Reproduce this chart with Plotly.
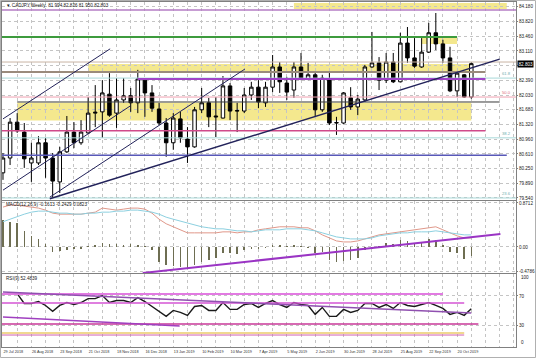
import pandas as pd
import plotly.graph_objects as go
from plotly.subplots import make_subplots

# ---------------- data ----------------
dates = pd.date_range("2018-07-29", periods=67, freq="7D")

opens = [80.15, 80.51, 81.38, 81.14, 80.39, 80.39, 80.88, 80.51, 79.93, 80.66,
         81.14, 80.88, 81.12, 81.60, 81.63, 82.06, 81.60, 81.92, 82.02, 81.85,
         82.40, 82.09, 81.70, 81.36, 80.88, 81.46, 80.97, 80.78, 81.68, 81.85,
         81.53, 81.48, 82.26, 81.65, 81.65, 82.04, 82.23, 81.85, 82.23, 82.72,
         82.33, 82.16, 82.72, 82.43, 82.53, 81.68, 82.43, 81.36, 81.36, 81.97,
         81.75, 81.92, 82.72, 82.82, 82.40, 82.84, 82.36, 83.30, 82.94, 82.72,
         83.08, 83.55, 83.28, 82.94, 82.14, 82.53, 81.99]
highs = [80.63, 81.48, 81.60, 81.36, 80.88, 81.04, 81.00, 80.63, 80.78, 81.53,
         81.38, 81.43, 81.99, 82.28, 82.40, 82.57, 82.45, 82.45, 82.21, 82.65,
         82.43, 82.28, 81.85, 81.48, 81.60, 81.63, 81.26, 81.75, 82.21, 81.97,
         81.99, 82.50, 82.33, 81.85, 82.21, 82.36, 82.40, 82.36, 83.01, 82.84,
         82.48, 82.84, 83.06, 82.82, 82.60, 82.53, 82.60, 81.51, 82.11, 82.23,
         82.04, 82.77, 83.57, 82.96, 83.06, 83.06, 83.55, 83.69, 83.42, 83.42,
         83.79, 84.03, 83.38, 83.21, 82.60, 82.55, 82.83]
lows = [79.98, 80.34, 81.12, 80.27, 79.93, 80.34, 80.03, 79.56, 79.66, 80.63,
        80.75, 80.83, 81.10, 81.26, 81.00, 81.51, 81.24, 81.85, 81.63, 81.60,
        81.51, 81.63, 81.31, 80.54, 80.71, 80.88, 80.39, 80.76, 81.60, 81.26,
        81.02, 81.47, 81.43, 81.14, 81.60, 81.92, 81.72, 81.75, 82.11, 82.09,
        81.92, 81.97, 82.40, 82.40, 81.51, 81.63, 81.31, 81.07, 81.34, 81.68,
        81.55, 81.87, 82.70, 82.16, 82.33, 82.33, 82.35, 82.82, 82.70, 82.70,
        83.06, 83.13, 82.82, 82.11, 81.99, 81.97, 81.95]
closes = [80.51, 81.38, 81.17, 80.49, 80.51, 80.88, 80.51, 79.95, 80.66, 81.14,
          80.88, 81.14, 81.60, 81.62, 82.09, 81.55, 81.92, 82.02, 81.85, 82.43,
          82.09, 81.72, 81.36, 80.88, 81.48, 81.00, 80.78, 81.68, 81.85, 81.51,
          81.51, 82.26, 81.65, 81.66, 82.04, 82.23, 81.87, 82.23, 82.72, 82.36,
          82.11, 82.72, 82.43, 82.53, 81.68, 82.45, 81.36, 81.37, 82.09, 81.75,
          81.94, 82.72, 82.82, 82.40, 82.84, 82.36, 83.30, 82.94, 82.74, 83.08,
          83.55, 83.28, 82.94, 82.14, 82.57, 81.99, 82.80]

macd_hist = [0.53, 0.50, 0.47, 0.32, 0.22, 0.16, 0.06, -0.10, -0.08, -0.06,
             -0.04, -0.03, 0.02, 0.03, 0.08, 0.06, 0.05, 0.04, 0.05, 0.03,
             0.02, -0.05, -0.30, -0.36, -0.38, -0.40, -0.42, -0.36, -0.30, -0.26,
             -0.22, -0.12, -0.12, -0.14, -0.06, -0.04, -0.03, -0.02, 0.04, 0.04,
             0.02, 0.03, 0.02, -0.02, -0.12, -0.10, -0.26, -0.30, -0.28, -0.26,
             -0.22, -0.06, -0.03, 0.02, 0.08, 0.06, 0.14, 0.12, 0.08, 0.10,
             0.16, 0.14, 0.04, -0.10, -0.12, -0.24, -0.18]
macd_main = [0.79, 0.83, 0.83, 0.81, 0.79, 0.77, 0.73, 0.67, 0.65, 0.65,
             0.65, 0.65, 0.67, 0.69, 0.77, 0.75, 0.73, 0.75, 0.77, 0.77,
             0.75, 0.67, 0.55, 0.46, 0.40, 0.34, 0.28, 0.28, 0.28, 0.28,
             0.28, 0.30, 0.30, 0.28, 0.30, 0.30, 0.34, 0.36, 0.38, 0.40,
             0.40, 0.40, 0.38, 0.38, 0.32, 0.24, 0.18, 0.12, 0.10, 0.10,
             0.12, 0.16, 0.20, 0.24, 0.26, 0.28, 0.30, 0.32, 0.34, 0.36,
             0.38, 0.40, 0.34, 0.28, 0.22, 0.18, 0.18]
macd_signal = [0.50, 0.55, 0.61, 0.65, 0.69, 0.71, 0.71, 0.69, 0.67, 0.67,
               0.65, 0.65, 0.67, 0.67, 0.69, 0.69, 0.71, 0.71, 0.73, 0.73,
               0.71, 0.69, 0.65, 0.59, 0.55, 0.51, 0.48, 0.44, 0.40, 0.38,
               0.36, 0.36, 0.34, 0.32, 0.32, 0.30, 0.32, 0.34, 0.34, 0.34,
               0.36, 0.36, 0.36, 0.34, 0.32, 0.28, 0.24, 0.20, 0.18, 0.16,
               0.16, 0.16, 0.18, 0.22, 0.24, 0.26, 0.28, 0.28, 0.30, 0.30,
               0.30, 0.32, 0.30, 0.28, 0.26, 0.24, 0.24]
rsi = [71.7, 74.4, 73.0, 59.6, 59.6, 62.3, 56.9, 48.8, 56.9, 60.9,
       58.2, 60.9, 66.3, 66.3, 70.4, 60.9, 63.6, 63.6, 60.9, 67.7,
       62.3, 55.5, 48.8, 42.0, 50.1, 47.4, 43.4, 55.5, 56.9, 50.1,
       50.1, 60.9, 51.5, 51.5, 58.2, 59.6, 54.2, 59.6, 63.6, 58.2,
       54.2, 60.9, 58.2, 56.9, 44.7, 54.2, 42.0, 42.0, 51.5, 47.4,
       50.1, 59.6, 59.6, 54.2, 58.2, 52.8, 60.9, 56.9, 55.5, 58.2,
       60.9, 56.9, 52.8, 44.7, 47.4, 43.4, 52.5]

tick_weeks = [0, 4, 8, 12, 16, 20, 24, 28, 32, 36, 40, 44, 48, 52, 56, 60, 64]
tick_labels = ["29 Jul 2018", "26 Aug 2018", "23 Sep 2018", "21 Oct 2018", "18 Nov 2018",
               "16 Dec 2018", "13 Jan 2019", "10 Feb 2019", "10 Mar 2019", "7 Apr 2019",
               "5 May 2019", "2 Jun 2019", "30 Jun 2019", "28 Jul 2019", "25 Aug 2019",
               "22 Sep 2019", "20 Oct 2019"]
price_ticks = [79.54, 79.89, 80.25, 80.61, 80.96, 81.32, 81.68, 82.03, 82.39,
               82.75, 83.11, 83.46, 83.82, 84.18]
hidden_price_tick = 82.75   # covered by the last-price marker in the reference
macd_ticks = [-0.4786, 0.0, 0.8712]
rsi_ticks = [30, 70]
rsi_edge_ticks = [0, 100]

title_main = "\u25bc CADJPY,Weekly  81.994 82.826 81.950 82.803"
title_macd = "MACD(12,26,9) -0.1613 -0.2429 0.0823"
title_rsi = "RSI(9) 52.4839"
last_price = 82.803

# drawn objects (price levels, zones, trendlines)
main_levels = [84.10, 83.45, 82.84, 82.60, 82.45, 82.43, 81.99, 81.87, 81.17, 81.00, 80.58, 79.54]
main_level_spans = [(-1, 75), (-1, 64), (-1, 75), (-1, 68), (-1, 75), (19, 68),
                    (-1, 75), (2, 70), (-1, 68), (-1, 75), (-1, 71), (-1, 75)]
main_zones = [(84.27, 84.13), (83.45, 83.28), (82.79, 82.60), (81.85, 81.42)]
main_zone_spans = [(41, 71), (59, 64), (12, 66), (2, 66)]
main_trends = [((0, 81.46), (15.1, 83.16)), ((0, 79.73), (17.9, 81.77)),
               ((6.6, 79.56), (34.1, 82.67)), ((6.6, 79.52), (70.0, 82.91))]
fibo_levels = [82.45, 81.99, 81.00, 79.54]
fibo_labels = ["61.8", "50.0", "38.2", "23.6"]
macd_trend = ((19.7, -0.515), (70.1, 0.257))
rsi_levels = [72.6, 60.3, 31.5, 19.2, 16.4]
rsi_level_spans = [(-1, 62), (-1, 65), (-1, 67), (-1, 65), (-1, 65)]
rsi_trends = [((0, 75.3), (66, 46.6)), ((0, 41.1), (24.9, 28.8))]

# ---------------- figure ----------------
idx = list(range(len(dates)))
W, H = 536, 358
fig = make_subplots(rows=3, cols=1, shared_xaxes=True, vertical_spacing=0.0)

fig.add_trace(go.Candlestick(
    x=idx, open=opens, high=highs, low=lows, close=closes,
    increasing=dict(line=dict(color="#000000", width=1), fillcolor="#ffffff"),
    decreasing=dict(line=dict(color="#000000", width=1), fillcolor="#000000"),
    whiskerwidth=0, showlegend=False, hoverinfo="skip"), row=1, col=1)

fig.add_trace(go.Bar(x=idx, y=macd_hist, width=0.22, marker=dict(color="#6e6e52", line=dict(width=0)),
                     showlegend=False, hoverinfo="skip"), row=2, col=1)
fig.add_trace(go.Scatter(x=idx, y=macd_main, mode="lines", line=dict(color="#e0988a", width=1),
                         showlegend=False, hoverinfo="skip"), row=2, col=1)
fig.add_trace(go.Scatter(x=idx, y=macd_signal, mode="lines", line=dict(color="#8cd0e0", width=1),
                         showlegend=False, hoverinfo="skip"), row=2, col=1)
fig.add_trace(go.Scatter(x=idx, y=rsi, mode="lines", line=dict(color="#1a1a1a", width=1.4),
                         showlegend=False, hoverinfo="skip"), row=3, col=1)

shapes = []
zone_fill = "rgba(242,228,122,0.85)"
for (p0, p1), (i0, i1) in zip(main_zones, main_zone_spans):
    shapes.append(dict(type="rect", xref="x", yref="y", x0=i0, x1=i1, y0=p0, y1=p1,
                       fillcolor=zone_fill, line=dict(width=0), layer="below"))
level_styles = [("#b47cc4", 1.5), ("#3d9b3d", 2), ("#c9b4a4", 1), ("#9a8b7c", 2),
                ("#a8d8d8", 1), ("#a044c8", 2), ("#f0a0b0", 1), ("#3a3a3a", 1),
                ("#d04a8a", 1.5), ("#a8d8d8", 1), ("#5858b8", 1.5), ("#a8d8d8", 1)]
for p, (i0, i1), (c, w) in zip(main_levels, main_level_spans, level_styles):
    shapes.append(dict(type="line", xref="x", yref="y", x0=i0, x1=i1, y0=p, y1=p,
                       line=dict(color=c, width=w), layer="above"))
trend_w = [1, 1, 1, 1.5]
for ((a0, b0), (a1, b1)), w in zip(main_trends, trend_w):
    shapes.append(dict(type="line", xref="x", yref="y", x0=a0, x1=a1, y0=b0, y1=b1,
                       line=dict(color="#22225a", width=w), layer="above"))
(a0, b0), (a1, b1) = macd_trend
shapes.append(dict(type="line", xref="x2", yref="y2", x0=a0, x1=a1, y0=b0, y1=b1,
                   line=dict(color="#9a34c4", width=2), layer="above"))
rsi_styles = [("#e27ae2", 2), ("#d454d4", 1.5), ("#c83898", 1.5), ("#f0d890", 2), ("#d060b0", 1)]
for p, (i0, i1), (c, w) in zip(rsi_levels, rsi_level_spans, rsi_styles):
    shapes.append(dict(type="line", xref="x3", yref="y3", x0=i0, x1=i1, y0=p, y1=p,
                       line=dict(color=c, width=w), layer="above"))
for ((a0, b0), (a1, b1)), c in zip(rsi_trends, ["#9050b0", "#a040c0"]):
    shapes.append(dict(type="line", xref="x3", yref="y3", x0=a0, x1=a1, y0=b0, y1=b1,
                       line=dict(color=c, width=1.5), layer="above"))
# outer frame
shapes.append(dict(type="rect", xref="paper", yref="paper", x0=-1.5/514, x1=1+19.5/514,
                   y0=-10.5/345, y1=1+1.5/345, line=dict(color="#b0b0b0", width=1)))

fig.update_layout(shapes=shapes)

FAM = "Liberation Sans, Arial, sans-serif"
tf = dict(family=FAM, size=4.6, color="#202020")
ann = []
ann.append(dict(text=title_main, xref="x domain", yref="y domain", x=0.003, y=0.98,
                xanchor="left", yanchor="middle", showarrow=False, font=tf))
ann.append(dict(text=title_macd, xref="x2 domain", yref="y2 domain", x=0.003, y=0.945,
                xanchor="left", yanchor="middle", showarrow=False, font=tf))
ann.append(dict(text=title_rsi, xref="x3 domain", yref="y3 domain", x=0.003, y=0.945,
                xanchor="left", yanchor="middle", showarrow=False, font=tf))
for p, t in zip(fibo_levels, fibo_labels):
    ann.append(dict(text=t, xref="x", yref="y", x=71.9, y=p, xanchor="right", yanchor="bottom",
                    showarrow=False, font=dict(family=FAM, size=4.2,
                                               color="#e07080" if t == "50.0" else "#70b0b0")))
ann.append(dict(text="%.3f" % last_price, xref="paper", yref="y", x=1.0, y=last_price,
                xanchor="left", yanchor="middle", showarrow=False, bgcolor="#000000",
                borderpad=0.5, xshift=0.5, font=dict(family=FAM, size=4.6, color="#ffffff")))
for v, sh in zip(rsi_edge_ticks, [4, -4]):
    ann.append(dict(text=str(v), xref="paper", yref="y3", x=1.0, y=v, xanchor="left",
                    yanchor="middle", yshift=sh, xshift=3, showarrow=False, font=tf))
fig.update_layout(annotations=ann)

grid = dict(showgrid=True, gridcolor="#c4c4c4", griddash="dot", gridwidth=1)
for r in (1, 2, 3):
    fig.update_xaxes(row=r, col=1, range=[-0.14, 72.3], tickmode="array", tickvals=tick_weeks,
                     ticktext=tick_labels, showticklabels=(r == 3), ticks="", tickangle=0,
                     ticklabelposition="outside right", automargin=False,
                     tickfont=dict(family=FAM, size=3.8, color="#303030"),
                     minor=dict(dtick=2, tick0=0, showgrid=True, gridcolor="#c4c4c4",
                                griddash="dot", gridwidth=1),
                     showline=True, mirror=True, linecolor="#808080", linewidth=1,
                     zeroline=False, rangeslider_visible=False, **grid)

fig.update_yaxes(row=1, col=1, domain=[0.4261, 1.0], range=[79.491, 84.297], side="right",
                 tickmode="array", tickvals=price_ticks,
                 ticktext=["" if v == hidden_price_tick else "%.3f" % v for v in price_ticks])
fig.update_yaxes(row=2, col=1, domain=[0.2145, 0.4232], range=[-0.5149, 0.9108], side="right",
                 tickmode="array", tickvals=macd_ticks, ticktext=["-0.4786", "0.00", "0.8712"])
fig.update_yaxes(row=3, col=1, domain=[0.0, 0.2116], range=[0, 100], side="right",
                 tickmode="array", tickvals=rsi_ticks, ticktext=[str(v) for v in rsi_ticks])
fig.update_yaxes(ticks="outside", ticklen=1, tickcolor="#808080", automargin=False,
                 tickfont=dict(family=FAM, size=4.6, color="#202020"),
                 showline=True, mirror=True, linecolor="#808080", linewidth=1,
                 zeroline=False, **grid)

fig.update_layout(width=W, height=H, margin=dict(l=2, r=20, t=2, b=11),
                  paper_bgcolor="#ffffff", plot_bgcolor="#ffffff", showlegend=False,
                  bargap=0, hovermode=False)

fig.write_html("out.html", config={"displayModeBar": False, "staticPlot": True},
               post_script="document.body.style.margin='0';")
